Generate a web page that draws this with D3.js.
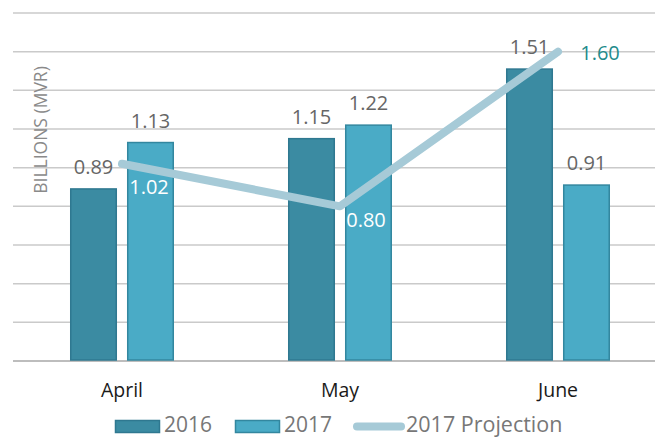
<!DOCTYPE html>
<html>
<head>
<meta charset="utf-8">
<script src="https://cdn.jsdelivr.net/npm/d3@7/dist/d3.min.js"></script>
<style>
  body { margin: 0; background: #fff; }
  svg { display: block; font-family: "Open Sans", sans-serif; }
</style>
</head>
<body>
<div id="chart"></div>
<script>
(function() {

var months = ["April", "May", "June"];
var years = ["2016", "2017"];
var values2016 = [0.89, 1.15, 1.51];
var values2017 = [1.13, 1.22, 0.91];
var projection = [1.02, 0.80, 1.60];
var yTicks = [0, 0.2, 0.4, 0.6, 0.8, 1.0, 1.2, 1.4, 1.6, 1.8];

// where each projection label sits relative to its point
var projLabelOffsets = [[27, 30], [26, 21], [42, 8]];
var projLabelColors = ["#ffffff", "#ffffff", "#238b8c"];

var width = 655, height = 437;

var colors = { "2016": "#3b8ba2", "2017": "#4aabc6" };
var strokes = { "2016": "#2f7890", "2017": "#33879f" };

var svg = d3.select("#chart").append("svg")
    .attr("width", width)
    .attr("height", height);

var x0 = d3.scaleBand()
    .domain(months)
    .range([13, 667]);

var x1 = d3.scaleBand()
    .domain(years)
    .range([0, x0.bandwidth()])
    .paddingInner(0.175)
    .paddingOuter(1.0);

var y = d3.scaleLinear()
    .domain([0, 1.8])
    .range([361, 13]);

// gridlines
svg.append("g")
    .selectAll("line")
    .data(yTicks)
  .enter().append("line")
    .attr("x1", 13)
    .attr("x2", width)
    .attr("y1", function(d) { return y(d); })
    .attr("y2", function(d) { return y(d); })
    .style("stroke", function(d) { return d === 0 ? "#bdbdbd" : "#cacaca"; })
    .style("stroke-width", function(d) { return d === 0 ? 2 : 1.5; });

// y axis title
svg.append("text")
    .attr("transform", "translate(47,130) rotate(-90)")
    .attr("text-anchor", "middle")
    .style("font-size", "17.5px")
    .style("fill", "#8a8a8a")
    .text("BILLIONS (MVR)");

var rows = months.map(function(m, i) {
  return { month: m, vals: [
    { year: "2016", value: values2016[i] },
    { year: "2017", value: values2017[i] }
  ] };
});

var groups = svg.selectAll(".group")
    .data(rows)
  .enter().append("g")
    .attr("class", "group")
    .attr("transform", function(d) { return "translate(" + x0(d.month) + ",0)"; });

groups.selectAll("rect")
    .data(function(d) { return d.vals; })
  .enter().append("rect")
    .attr("x", function(d) { return x1(d.year) + 0.75; })
    .attr("y", function(d) { return y(d.value); })
    .attr("width", x1.bandwidth() - 1.5)
    .attr("height", function(d) { return y(0) - y(d.value) - 1; })
    .style("fill", function(d) { return colors[d.year]; })
    .style("stroke", function(d) { return strokes[d.year]; })
    .style("stroke-width", 1.5);

groups.selectAll(".barLabel")
    .data(function(d) { return d.vals; })
  .enter().append("text")
    .attr("class", "barLabel")
    .attr("x", function(d) { return x1(d.year) + x1.bandwidth() / 2; })
    .attr("y", function(d) { return y(d.value) - 15; })
    .attr("text-anchor", "middle")
    .style("font-size", "20px")
    .style("fill", "#666")
    .text(function(d) { return d.value.toFixed(2); });

// projection line
var line = d3.line()
    .x(function(d, i) { return x0(months[i]) + x0.bandwidth() / 2; })
    .y(function(d) { return y(d); });

svg.append("path")
    .datum(projection)
    .attr("d", line)
    .style("fill", "none")
    .style("stroke", "#a6cad7")
    .style("stroke-width", 8)
    .style("stroke-linecap", "round")
    .style("stroke-linejoin", "round");

svg.selectAll(".projLabel")
    .data(projection)
  .enter().append("text")
    .attr("class", "projLabel")
    .attr("x", function(d, i) { return x0(months[i]) + x0.bandwidth() / 2 + projLabelOffsets[i][0]; })
    .attr("y", function(d, i) { return y(d) + projLabelOffsets[i][1]; })
    .attr("text-anchor", "middle")
    .style("font-size", "20px")
    .style("fill", function(d, i) { return projLabelColors[i]; })
    .text(function(d) { return d.toFixed(2); });

// category labels
svg.selectAll(".monthLabel")
    .data(months)
  .enter().append("text")
    .attr("class", "monthLabel")
    .attr("x", function(d) { return x0(d) + x0.bandwidth() / 2; })
    .attr("y", 397)
    .attr("text-anchor", "middle")
    .style("font-size", "19.5px")
    .style("fill", "#1a1a1a")
    .text(function(d) { return d; });

// legend
var legend = svg.append("g").attr("class", "legend");

legend.append("rect")
    .attr("x", 115.5).attr("y", 420.5).attr("width", 44).attr("height", 12)
    .style("fill", colors["2016"]).style("stroke", strokes["2016"]).style("stroke-width", 1.5);
legend.append("text")
    .attr("x", 164).attr("y", 432)
    .style("font-size", "21px").style("fill", "#777")
    .text("2016");

legend.append("rect")
    .attr("x", 235.5).attr("y", 420.5).attr("width", 44).attr("height", 12)
    .style("fill", colors["2017"]).style("stroke", strokes["2017"]).style("stroke-width", 1.5);
legend.append("text")
    .attr("x", 284).attr("y", 432)
    .style("font-size", "21px").style("fill", "#777")
    .text("2017");

legend.append("line")
    .attr("x1", 357).attr("x2", 401).attr("y1", 426.5).attr("y2", 426.5)
    .style("stroke", "#a6cad7").style("stroke-width", 8).style("stroke-linecap", "round");
legend.append("text")
    .attr("x", 406).attr("y", 432)
    .style("font-size", "21.5px").style("fill", "#777")
    .text("2017 Projection");

})()
</script>
</body>
</html>
